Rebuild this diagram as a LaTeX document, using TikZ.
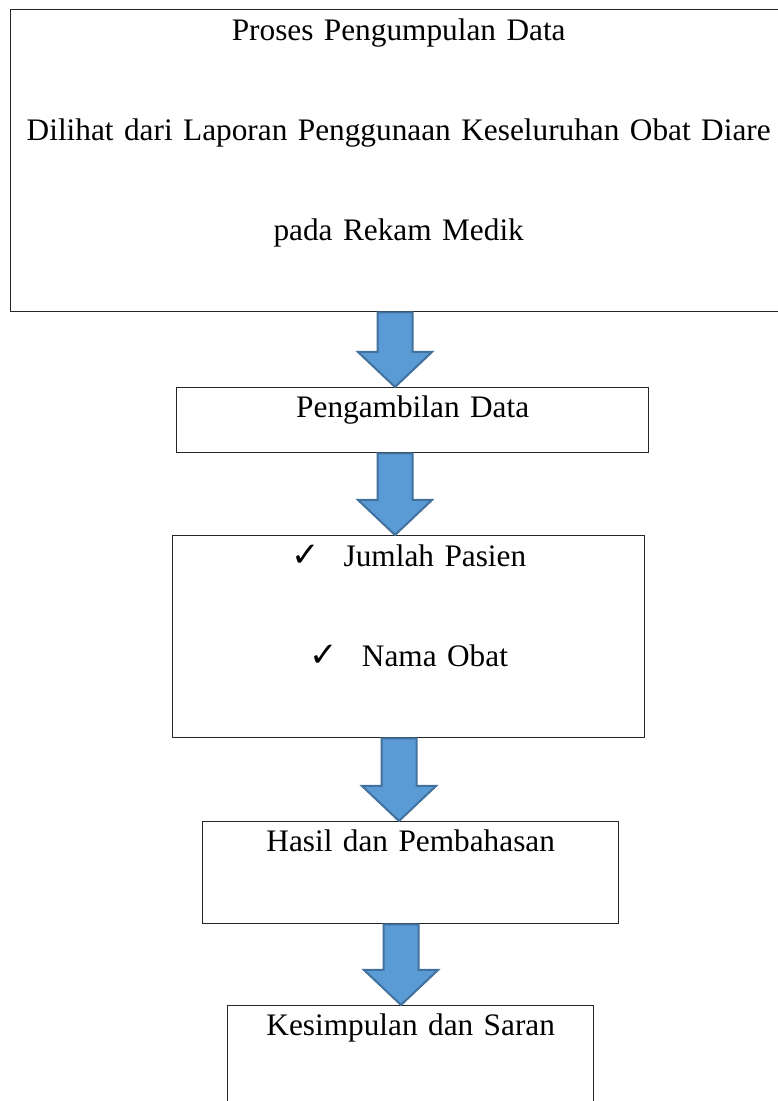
\documentclass[tikz,border=0pt]{standalone}
\usepackage{fontspec}
\setmainfont{Liberation Serif}
\newfontfamily\symfont{DejaVu Sans}
\usetikzlibrary{calc}
\definecolor{ArrowFill}{RGB}{91,155,213}
\definecolor{ArrowEdge}{RGB}{65,113,156}
\tikzset{
  box/.style={draw=black!85,line width=1.4pt,inner sep=0pt,anchor=north west,
    align=center,font=\fontsize{31.3}{100}\selectfont},
  blockarrow/.style={fill=ArrowFill,draw=ArrowEdge,line width=2pt,line join=miter}
}
\newcommand{\tick}{{\symfont\fontsize{34}{34}\selectfont ✓}}
% block arrow from the bottom of #1 to the top of #2, centred at x = #3
\newcommand{\fatarrow}[3]{%
  \draw[blockarrow] let \p1=(#1.south), \p2=(#2.north) in
    ({#3pt-17.5pt},\y1) -- ({#3pt+17.5pt},\y1) -- ({#3pt+17.5pt},{\y2+35pt})
    -- ({#3pt+37pt},{\y2+35pt}) -- (#3pt,\y2) -- ({#3pt-37pt},{\y2+35pt})
    -- ({#3pt-17.5pt},{\y2+35pt}) -- cycle;}

\begin{document}
\begin{tikzpicture}[x=1pt,y=1pt]
  \useasboundingbox (0,0) rectangle (777,1101);
  \node[box,text width=776pt,text height=31pt,text depth=271pt] (collect) at (10,1092)
    {Proses Pengumpulan Data\\Dilihat dari Laporan Penggunaan Keseluruhan Obat Diare\\pada Rekam Medik};
  \node[box,text width=472pt,text height=30pt,text depth=35pt] (fetch) at (176,714) {Pengambilan Data};
  \node[box,text width=472pt,text height=31pt,text depth=171pt] (items) at (172,566)
    {\tick\hspace{24pt}Jumlah Pasien\\\tick\hspace{24pt}Nama Obat};
  \node[box,text width=416pt,text height=30pt,text depth=72pt] (result) at (202,280) {Hasil dan Pembahasan};
  \node[box,text width=366pt,text height=30pt,text depth=100pt] (close) at (227,96) {Kesimpulan dan Saran};

  \fatarrow{collect}{fetch}{395}
  \fatarrow{fetch}{items}{395}
  \fatarrow{items}{result}{399}
  \fatarrow{result}{close}{401}
\end{tikzpicture}
\end{document}
